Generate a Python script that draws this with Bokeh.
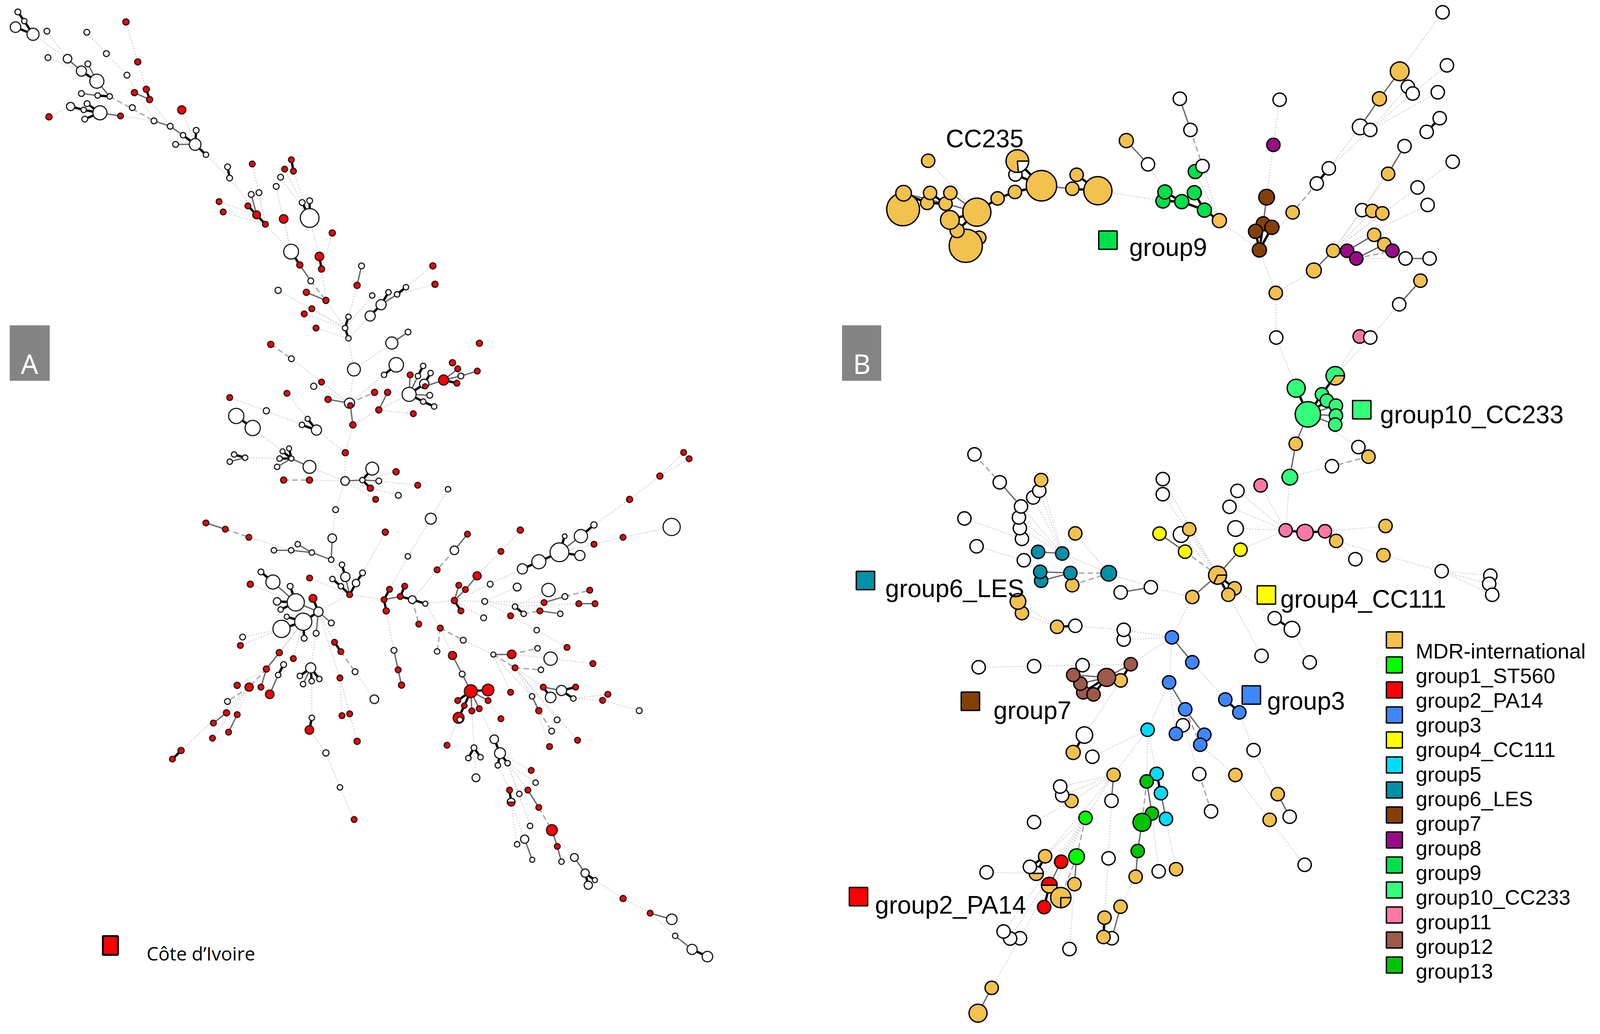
from math import radians
from bokeh.embed import file_html
from bokeh.models import ColumnDataSource, Range1d
from bokeh.plotting import figure
from bokeh.resources import INLINE

# ---- node readings: (id, read_x, read_y, diameter, group), one list per region of the picture
W, R = "white", "red"
A_TOP = [("a1",80,66,15,W),("a2",105,107,14,W),("a3",71,134,27,W),("a4",139,166,31,W),("a5",193,152,15,W),
("a6",348,157,15,W),("a7",197,270,15,W),("a8",273,275,22,W),("a9",327,330,26,W),("a10",352,298,15,W),
("a11",387,375,36,W),("a12",424,252,15,W),("a13",504,348,15,W),("a14",500,111,16,R),("a15",546,289,16,R),
("a16",533,426,16,R),("a17",579,411,16,R),("a18",592,457,16,R),("a19",327,430,15,W),("a20",390,439,14,W),
("a21",437,443,14,W),("a22",349,475,15,W),("a23",285,488,21,W),("a24",336,503,14,W),("a25",399,516,36,W),
("a26",340,544,15,W),("a27",201,534,16,R),("a28",479,530,15,R),("a29",525,493,15,W),("a30",717,503,21,R),
("a31",609,552,15,W),("a32",672,576,15,W),("a33",722,616,14,W),("a34",773,594,15,W),("a35",769,657,30,W),
("a36",693,657,15,W),("a37",811,703,14,W),("a38",895,757,15,W),("a39",903,807,15,W),("a40",991,744,15,R),
("a41",1143,725,15,R),("a42",1117,767,15,R),("a43",1151,776,15,R),("a44",1101,803,15,W),("a45",1084,844,15,W),
("a46",987,880,15,W),("a47",1017,872,15,W),("a48",862,912,15,R),("a49",878,958,15,R),("a50",974,931,15,R),
("a51",1008,971,20,R),("a52",1042,1013,15,R),("a53",1113,989,22,R),("a54",1185,916,15,W),("a55",1214,908,15,W),
("a56",1214,985,48,W),("a57",1302,1052,16,R),("a58",1142,1135,38,W)]

A_MID = [("b59",659,24,22,R),("b60",566,62,16,R),("b61",669,80,16,R),("b62",859,66,15,W),("b63",618,133,15,W),
("b64",838,153,16,R),("b65",463,175,16,W),("b66",597,184,16,R),("b67",690,220,16,R),("b68",1198,66,16,R),
("b69",1208,148,16,R),("b70",1070,161,14,W),("b71",1028,193,14,W),("b72",987,184,14,W),("b73",910,198,14,W),
("b74",952,239,26,W),("b75",900,289,26,W),("b76",623,257,15,R),("b77",587,280,15,R),("b78",797,293,14,W),
("b79",781,343,14,W),("b80",797,389,14,W),("b81",643,343,15,R),("b82",428,416,16,R),("b83",526,480,15,W),
("b84",1080,361,15,W),("b85",1003,410,31,W),("b86",823,528,33,W),("b87",1024,507,37,W),("b88",966,552,14,W),
("b89",1419,411,16,R),("b90",1291,498,16,R),("b91",1316,525,15,R),("b92",1409,535,15,R),("b93",1152,512,14,W),
("b94",1127,557,14,W),("b95",1187,544,14,W),("b96",1090,552,15,R),("b97",1331,557,15,W),("b98",1249,575,26,R),
("b99",1312,589,15,R),("b100",1157,592,24,W),("b101",1161,603,13,R),("b102",1085,639,36,W),("b103",1183,643,15,W),
("b104",1152,671,14,W),("b105",1204,693,14,W),("b106",669,584,15,R),("b107",632,603,16,W),("b108",505,634,15,R),
("b109",233,653,15,R),("b110",700,661,16,R),("b111",802,678,26,W),("b112",806,688,14,R),("b113",921,630,16,R),
("b114",983,630,16,R),("b115",941,708,16,R),("b116",1105,725,15,R),("b117",407,712,16,W),("b118",264,735,39,W),
("b119",342,789,39,W),("b120",603,748,13,W),("b121",576,775,14,W),("b122",645,798,26,W),("b123",818,775,16,R),
("b124",782,899,16,R),("b125",515,880,13,W),("b126",484,893,13,W),("b127",526,925,13,W),("b128",470,925,14,W),
("b129",458,962,14,W),("b130",612,962,33,W),("b131",254,907,14,W),("b132",306,921,14,W),("b133",233,939,14,W),
("b134",910,970,33,W),("b135",1023,984,16,R),("b136",781,1025,22,W),("b137",863,1021,14,W),("b138",941,1025,15,W),
("b139",901,1057,16,R),("b140",1126,1044,15,R),("b141",1034,1089,15,W),("b142",926,1107,15,R),("b143",1270,1062,14,W),
("b144",489,1021,16,R),("b145",612,1021,16,R),("b146",736,1153,15,W),("b147",1188,1193,28,W),("b148",120,1212,15,R),
("b149",212,1240,15,R),("b150",324,1276,15,R),("b151",972,1253,16,R),("b153",720,1280,22,W),("b155",556,1307,14,W),
("b156",443,1334,14,W),("b157",525,1334,14,W),("b158",623,1344,14,W),("b159",715,1376,14,W),("b160",1079,1361,14,W)]

A_LEFT = [("c1",625,335,15,W),("c2",689,386,36,W),("c3",781,407,15,W),("c4",568,397,16,R),("c5",885,366,15,R),
("c6",1058,299,14,W),("c7",1076,360,24,W),("c8",1168,340,15,W),("c9",1007,371,14,W),("c10",1052,407,14,W),
("c11",1133,391,19,W),("c12",1099,449,15,R),("c13",711,483,19,W),("c14",811,488,44,W),("c15",903,468,20,R),
("c16",730,524,14,W),("c17",932,535,24,W),("c18",763,560,13,W),("c19",851,585,44,W),("c20",735,621,44,W),
("c21",1001,591,15,W),("c22",920,643,15,W),("c23",856,668,15,W),("c24",527,662,15,W),("c25",515,704,15,R),
("c26",1018,688,15,R),("c27",1052,735,15,R),("c28",723,740,16,R),("c29",798,770,15,R),("c30",746,800,15,W),
("c31",654,822,16,R),("c32",717,852,14,W),("c33",891,817,26,W),("c34",833,857,14,W),("c35",937,872,14,W),
("c36",896,883,14,W),("c37",850,898,14,W),("c38",1128,836,15,W),("c39",1047,867,15,R),("c40",498,904,16,R),
("c41",562,913,21,R),("c42",625,913,15,R),("c43",672,949,22,R),("c44",446,985,15,W),("c45",1231,974,22,W),
("c46",441,1042,16,R),("c47",498,1051,15,R),("c48",371,1093,15,R),("c49",452,1139,15,R),("c50",366,1169,15,R),
("c51",897,1067,14,W),("c52",884,1128,22,R),("c53",1058,1056,15,R),("c54",1099,1047,15,R),("c55",1139,1185,16,R),
("c56",198,1231,16,R),("c57",152,1274,15,R),("c58",972,1243,16,W),("c59",1047,1416,14,W),("c60",1123,1577,15,R)]

A_RIGHT = [("d1",1518,114,15,R),("d2",1544,142,15,R),("d3",1405,219,16,R),("d4",1261,323,16,R),("d5",1092,437,16,W),
("d6",953,487,12,W),("d7",1030,487,34,W),("d8",928,559,48,W),("d9",1025,573,26,W),("d10",1092,523,15,R),
("d11",1230,492,15,R),("d12",1461,446,44,W),("d13",830,601,36,W),("d14",752,633,26,W),("d15",742,460,16,R),
("d16",650,555,15,R),("d17",537,664,21,R),("d18",491,478,15,R),("d19",429,550,22,W),("d20",347,637,15,R),
("d22",599,701,15,W),("d23",727,714,20,W),("d24",876,727,34,W),("d25",1072,728,15,R),("d26",954,756,15,W),
("d27",855,783,15,R),("d28",1020,788,15,R),("d29",1097,788,15,R),("d30",573,778,15,W),("d31",717,801,14,W),
("d32",758,833,14,W),("d33",835,820,15,R),("d34",932,833,14,W),("d35",696,842,15,R),("d36",568,851,15,W),
("d37",429,774,16,R),("d38",450,706,15,R),("d39",481,725,15,R),("d40",460,820,15,R),("d41",121,724,15,R),
("d42",193,710,15,R),("d43",95,770,15,R),("d44",172,756,15,R),("d45",229,770,20,W),("d46",291,788,13,W),
("d47",105,820,16,R),("d48",260,879,15,R),("d49",362,897,15,R),("d50",471,951,15,W),("d51",820,906,14,W),
("d52",964,983,15,R),("d53",347,1001,14,W),("d54",420,1019,21,R),("d55",614,1015,13,W),("d56",701,1014,22,R),
("d57",824,987,14,W),("d58",886,1033,34,W),("d59",1087,1055,15,R),("d60",717,1074,15,R),("d61",840,1083,14,W),
("d92",142,996,15,W),("d63",162,1083,15,R),("d64",178,1151,16,R),("d65",466,1102,15,W),("d66",507,1178,33,R),
("d67",589,1173,30,R),("d68",445,1220,15,R),("d69",589,1220,15,R),("d70",476,1243,14,R),("d71",547,1256,15,R),
("d72",512,1266,15,R),("d73",449,1297,28,R),("d74",455,1305,14,W),("d75",650,1301,15,R),("d76",851,1160,15,R),
("d77",938,1175,26,W),("d78",1005,1160,15,R),("d79",886,1206,27,W),("d80",994,1211,14,W),("d81",1158,1192,15,R),
("d82",1133,1219,15,R),("d83",1307,1265,15,W),("d84",696,1183,15,R),("d85",798,1201,14,W),("d86",830,1265,16,R),
("d87",917,1306,15,W),("d88",891,1356,15,W),("d89",881,1425,15,R),("d90",1014,1397,15,R),("d91",394,1419,15,R)]

A_TAIL = [("e1",378,183,22,W),("e2",407,249,28,W),("e3",276,223,15,W),("e4",248,272,14,W),("e5",309,268,14,W),
("e6",396,306,14,W),("e7",445,296,14,W),("e8",286,365,20,W),("e9",564,330,15,R),("e10",586,388,14,W),
("e11",547,423,15,R),("e12",455,423,15,R),("e13",504,441,14,W),("e14",463,480,20,R),("e15",602,505,15,R),
("e16",558,592,14,W),("e17",531,655,21,W),("e18",668,612,28,R),("e19",493,679,14,W),("e20",569,752,13,W),
("e21",695,689,15,R),("e22",716,761,14,W),("e23",781,741,20,W),("e24",835,815,21,W),("e25",884,848,13,W),
("e26",851,872,21,W),("e27",1026,935,16,R),("e28",1162,1004,15,R),("e29",1271,1033,27,W),("e30",1288,1111,14,W),
("e31",1373,1175,26,W),("e32",1450,1209,27,W)]

A_THICK = """a1-a2 a2-a4 a3-a4 a9-a11 a20-a21 a23-a24 a22-a25 a24-a25 a26-a25 a34-a35 a33-a35 a35-a37 a38-a39 a41-a43
a17-a18 a50-a51 a51-a52 a54-a56 a55-a56 a58-b60 b59-b61 b70-b71 b72-b74 b74-b75 b78-b79 b79-b80 b87-b88 b93-b94 b95-b100
b100-b102 b102-b104 b104-b105 b98-b99 b118-b119 b120-b122 b121-b122 b125-b127 b126-b127 b128-b127 b131-b132 b134-b137
b137-b139 c1-c2 c3-c14 c13-c14 c16-c14 c18-c19 c19-c20 c19-c17 c23-c19 c15-c17 c6-c7 c9-c10 c10-c12 c11-c12 c8-c11
c30-c32 c33-c34 c33-c35 c33-c36 c51-c52 c26-c27 c56-c57 d5-d7 d6-d8 d8-d9 d8-d13 d13-d14 d41-d43 d42-d44 d43-d47 d45-d46
d44-d45 d37-d40 d31-d32 d66-d67 d66-d68 d66-d70 d70-d73 d76-d79 d77-d78 d77-d80 e1-e2 e2-e6 e2-e7 e3-e4 e3-e5 e12-e14
e24-e25 e24-e26 e31-e32"""
A_SOLID = """a8-a9 a10-a11 a11-a21 a19-a20 a25-a28 a16-a18 a31-a32 a32-a33 a36-a35 a46-a51 b60-b63 b62-b64 b66-b67 b71-b74
b84-b85 b96-b102 b94-b102 b103-b102 b101-b98 b91-b98 b92-b97 b97-b98 b110-b111 b112-b123 b114-b115 b127-b130 b129-b127
b133-b132 b136-b137 b137-b138 b148-b149 b155-b158 b156-b157 b157-b158 b158-b159 b153-b159 c2-c14 c14-c17 c22-c17 c21-c17
c7-c12 c28-c31 c31-c42 c32-c43 c33-c37 c46-c48 c47-c49 d7-d8 d18-d19 d17-d39 d39-d37 d38-d37 d43-d44 d27-d26 d33-d34
d28-d29 d55-d56 d54-d65 d65-d66 d66-d72 d66-d71 d66-d69 d76-d77 d85-d86 d92-d63 d63-d64 e11-e15 e17-e20 e18-e21 e21-e22
e23-e24 e28-e29 e30-e31"""
A_DASHED = """a21-a31 b63-b67 b82-b83 b111-b113 b144-b145 b149-b150 c27-c38 c31-c41 c41-c44 d45-d48 d49-d53 d49-d50 d26-d25
d19-d20 d56-d57 d55-d60 d60-d61 d32-d33 d86-d88 e15-e18"""
A_DOTTED = """a4-a8 a5-a8 a7-a9 a6-a12 a12-a13 a13-a31 a14-a15 a15-a17 a18-a32 a27-a23 a28-a31 a30-a35 a37-a39 a39-a52 a40-a52
a48-a51 a49-a52 a45-a58 a44-a56 a42-a56 a43-a56 a47-a52 a52-a58 a53-a58 a56-b59 a57-b61 b61-b67 b64-b78 b65-b79 b76-b79
b77-b79 b81-b80 b73-b79 b75-b80 b70-b68 b71-b69 b67-b79 b80-b86 b85-b86 b83-b111 b106-b111 b107-b111 b108-b120 b86-b111
b88-b111 b115-b102 b116-b115 b115-b123 b123-b111 b123-b124 b124-b136 b109-b117 b117-b121 b122-b124 b119-b126 b132-b128
b130-b136 b145-b136 b135-b137 b138-b140 b141-b136 b142-b136 b146-b136 b146-b153 b150-b157 b143-b147 b147-b160 b160-d41
b151-c8 b159-c12 c4-c14 c5-c12 c17-c12 c12-d43 c24-c20 c25-c20 c28-c19 c29-c19 c31-c19 c40-c31 c41-c46 c41-c47 c50-c41
c56-c41 c22-c33 c36-c51 c52-c58 c58-c59 c59-c60 c17-c26 c17-c39 c39-c53 c39-c54 c39-c55 c38-c45 d1-d3 d2-d3 d3-d4 d4-d5
d10-d8 d10-d11 d11-d12 d14-d37 d15-d16 d16-d17 d20-d45 d22-d37 d23-d30 d24-d31 d30-d37 d30-d31 d35-d30 d36-d37 d37-d46
d46-d49 d47-d92 d50-d55 d49-d54 d51-d35 d51-d52 d30-d27 d28-d31 d56-d58 d58-d59 d55-d85 d60-d76 d60-d85 d60-d87 d90-d60
d89-d85 d80-d81 d80-d82 d82-d83 d73-d91 d72-e3 e3-e8 d71-e1 d75-d69 d84-d55 e2-e9 e7-e10 e7-e11 e7-e13 e6-e12 e7-e16
e14-e19 e14-e17 e18-e23 e25-e27 e27-e28 e28-e30"""

M, G1, G2, G3, G4, G5, G6, G7, G8, G9, G10, G11, G12, G13 = (
    "#F2C14E", "#00FF00", "#FF0000", "#3F87FF", "#FFFF00", "#00DCFF", "#0090A8",
    "#843F05", "#990B85", "#00E04B", "#33FF7A", "#FF78A8", "#9E5A4A", "#00C400")

B_TOP = [("g1",1248,61,34,W),("g2",1257,274,34,W),("g3",1159,298,48,M),("g4",1176,360,34,W),("g5",1186,387,34,W),
("g6",1117,408,36,M),("g7",1238,382,34,W),("g8",1242,486,34,W),("g9",1215,541,34,W),("g10",1077,521,40,W),
("g11",1098,533,34,W),("g12",703,408,34,W),("g13",910,412,34,W),("g14",725,533,34,W),("g15",592,576,36,M),
("g16",1169,598,34,W),("g17",1012,687,34,W),("g18",637,671,34,W),("g19",897,593,34,G8),("g20",735,700,36,G9),
("g21",750,678,34,W),("g22",987,748,34,W),("g23",1135,709,34,M),("g24",1269,661,34,W),("g25",1196,764,34,W),
("g26",1217,834,34,W),("g27",1081,855,34,W),("g28",1102,858,34,M),("g29",1123,868,34,M),("g30",1106,954,34,M),
("g31",937,864,34,M),("g32",1127,992,34,M),("g33",1021,1018,34,M),("g34",1050,1018,34,G8),("g35",1144,1018,34,G8),
("g36",1069,1049,34,G8),("g37",981,1097,38,M),("g38",1171,1049,34,W),("g39",1221,1049,34,W),("g40",1202,1138,34,M),
("g41",1158,1233,34,W),("g42",902,1187,34,M),("g43",903,1366,34,W),("g44",1076,1362,34,G11),("g45",1098,1366,34,W),
("g46",883,803,40,G7),("g47",876,910,36,G7),("g49",860,940,36,G7),("g48",894,924,36,G7),("g50",868,1015,36,G7),
("g52",668,818,36,G9),("g51",672,782,36,G9),("g53",707,821,36,G9),("g54",733,785,36,G9),("g56",785,897,36,M),
("g55",754,855,36,G9),("g57",181,657,34,M),("g59",362,712,34,W),("g58",366,658,58,M),("g60",416,757,78,M),
("g61",489,713,34,M),("g62",480,769,34,M),("g63",533,777,72,M),("g64",361,782,34,M),("g65",325,808,34,M),
("g67",129,852,84,M),("g68",130,787,40,M),("g69",179,826,34,M),("g72",217,829,34,M),("g70",185,786,34,M),
("g71",227,786,34,M),("g75",287,966,34,M),("g76",259,998,85,M),("g74",241,937,36,M),("g66",282,863,72,M),("g73",226,894,48,M)]

B_EAST = [("h2",535,315,46,G10),("h1",702,265,47,G10),("h3",645,340,34,G10),("h4",666,365,34,G10),("h5",705,385,34,G10),
("h6",705,425,34,G10),("h7",702,461,34,G10),("h8",585,420,65,G10),("h9",533,538,34,M),("h10",801,551,34,W),
("h11",844,590,34,M),("h12",688,628,34,W),("h13",508,672,40,G10),("h14",383,705,34,G11),("h15",284,727,34,W),
("h16",250,791,34,W),("h17",276,878,40,W),("h18",490,885,34,G11),("h19",573,894,42,G11),("h21",706,928,34,M),
("h20",658,889,34,G11),("h22",917,868,34,M),("h23",908,985,34,M),("h24",788,1001,34,W),("h25",1157,1049,34,W),
("h26",1365,1067,34,W),("h27",1360,1100,34,W),("h28",1373,1144,34,W),("h29",43,902,40,W),("h30",78,881,34,M),
("h31",60,971,34,G4),("h32",297,963,34,G4),("h34",272,1118,34,M),("h33",199,1065,46,M),("h35",245,1144,34,M),
("h36",91,1153,34,M),("h37",443,1238,34,W),("h38",517,1282,40,W),("h39",387,1389,34,W),("h40",593,1415,34,W)]

B_WEST = [("i1",571,267,34,W),("i2",679,379,34,W),("i5",822,440,34,W),("i4",848,413,34,W),("i3",856,370,34,M),
("i9",774,606,34,W),("i8",765,563,34,W),("i7",761,520,34,W),("i6",770,476,34,W),("i10",528,524,34,W),("i11",580,636,34,W),
("i12",1002,584,34,M),("i13",843,658,34,G6),("i14",946,665,34,G6),("i15",782,692,34,W),("i16",856,774,34,G6),
("i17",852,738,34,G6),("i19",989,792,34,M),("i18",981,743,34,G6),("i20",1145,744,40,G6),("i21",1196,821,34,W),
("i22",1325,800,34,W),("i25",774,904,34,M),("i24",757,857,40,M),("i26",924,959,34,M),("i27",1002,955,34,W),
("i29",1209,1010,34,W),("i28",1209,971,34,W),("i30",1415,1001,34,G3),("i31",1502,1101,34,G3),("i32",1239,1109,34,G12),
("i33",1033,1113,34,W),("i34",826,1117,34,W),("i35",589,1121,34,W),("i36",1196,1174,34,M),("i40",1036,1222,34,G12),
("i41",1080,1230,34,G12),("i39",1024,1187,34,G12),("i38",993,1152,34,G12),("i37",1136,1162,46,G12),("i42",1403,1182,34,G3),
("i48",1462,1354,34,W),("i43",1472,1290,34,G3),("i44",1041,1393,42,W),("i45",993,1463,36,M),("i46",1075,1480,34,W),
("i47",1311,1372,34,G5),("i49",1432,1388,34,G3),("i50",1376,366,34,W),("i51",1376,427,34,W),("i52",1362,585,34,G4)]

B_SOUTH = [("j5",682,583,34,G3),("j6",757,648,34,G3),("j7",833,837,34,W),("j8",570,760,34,G3),("j9",548,810,34,G3),
("j10",315,956,34,G5),("j11",262,994,34,G13),("j12",338,1053,34,G5),("j13",543,957,34,W),("j14",736,962,34,M),
("j15",85,961,34,M),("j16",74,1091,34,W),("j17",58,1380,34,W),("j18",290,1155,34,G13),("j19",237,1199,46,G13),
("j20",365,1182,34,G5),("j21",214,1343,34,G13),("j22",203,1472,34,M),("j23",326,1445,34,W),("j24",419,1434,34,M),
("j25",962,1058,34,M),("j26",1026,1171,34,W),("j27",919,1187,34,M),("j28",606,1144,34,W),("j29",1106,1412,34,W)]

B_FOOT = [("k4",1165,477,34,M),("k5",1118,450,34,W),("k3",1108,408,34,W),("k6",976,577,34,W),("k7",1236,557,34,G1),
("k8",1191,741,40,G1),("k9",1113,765,34,G2),("k10",1032,739,34,M),("k11",987,820,36,M),("k13",736,815,34,W),
("k14",1180,871,34,M),("k17",1027,980,34,G2),("k15",1053,876,40,M),("k16",1111,935,52,M),("k18",905,1128,34,W),
("k19",855,1129,34,W),("k20",822,1096,34,W),("k21",1155,1179,34,W),("k22",1369,1128,34,W),("k23",1327,1122,34,M),
("k24",1332,1030,34,M),("k25",1413,978,34,M),("k26",762,1363,34,M),("k27",693,1483,46,M)]
B_ABOVE_WEDGES = [("k12",955,789,34,W)]

B_THICK = """g8-g9 g17-g22 g47-g50 g48-g50 g49-g50 g51-g52 g52-g53 g53-g55 g51-g53 g54-g55 g55-g56 g58-g60 g59-g60 g60-g64
g64-g65 g65-g66 g62-g63 g61-g63 g70-g72 g69-g72 g66-g73 g73-g76 g74-g76 g75-g76 g74-g66 g69-g70 g68-g69 i26-i27 i32-i36
i37-i40 i37-i41 j5-j6 h37-h38 h18-h19 h19-h20 h2-h8 h3-h8 h4-h8 h1-h3 h33-h34 h33-h35 i45-i44 j10-j12 k10-k12 k15-k17
k23-k24 k10-k11 k12-k11"""
B_SOLID = """g3-g6 g6-g10 g12-g14 g15-g18 g23-g16 g46-g47 g33-g37 g34-g30 g36-g32 g38-g39 g40-g41 g68-g72 g71-g66 g72-g66
g60-g62 g53-g54 i2-i6 i13-i14 i17-i18 i16-i18 i21-i22 i52-h31 i30-i31 i42-i43 i43-j8 i38-i37 i39-i37 i36-i37 i32-i37
h36-h33 h32-h33 h8-h9 h9-h13 h8-h5 h8-h6 h8-h7 h20-h21 j25-j26 j11-j18 j12-j20 j19-j21 j21-j22 j15-j16 k9-k15 k8-k14
k25-k22 k26-k27 j18-j19"""
B_DASHED = """g14-g21 g22-g31 g36-g35 i1-i2 i18-i20 i19-i20 i43-j9 j13-j28 j11-j19 k7-k8 k8-k16 h11-h12 h31-h33"""
B_DOTTED = """g1-g3 g2-g5 g4-g11 g5-g11 g7-g11 g10-g17 g11-g17 g16-g9 g16-g27 g23-g33 g24-g25 g25-g33 g26-g33 g27-g33 g28-g33
g29-g33 g38-g36 g33-g37 g37-g42 g42-g50 g42-g43 g43-h2 g41-g45 g45-h1 g44-h1 g13-g19 g19-g46 g31-g50 g18-g51 g63-g52
g21-g56 g20-g56 g56-g50 g57-g66 i3-i14 i4-i14 i5-i14 i6-i14 i7-i14 i8-i14 i12-i20 i14-i20 i15-i17 i10-i9 i11-i15 i20-i22
i22-h36 i24-i26 i25-i26 i27-i28 i28-i30 i29-i30 i30-h36 i32-i30 i33-i32 i34-i33 i35-i34 i36-i44 i30-i42 i42-i47 i42-i49
i42-i48 i47-i46 i47-j15 i47-j11 i47-j10 i51-h33 i50-h33 h30-h33 h29-h33 i48-j13 i31-j5 j6-j7 j7-j25 j9-j14 j14-j27 j27-j29
h35-h39 h34-h37 h38-h40 h17-h18 h16-h18 h15-h18 h14-h18 h32-h18 h18-h13 h13-h12 h8-h10 h20-h22 h21-h24 h21-h23 h23-h25
h25-h26 h25-h27 h25-h28 j18-j23 j20-j24 k14-k21 j16-j17 k24-j17 j22-k25 j15-k3 j15-k4 j15-k5 j15-k10 j15-k7 k6-k4 k7-k20
k7-k18 k7-k19 k7-k17 k7-k10 k13-k11 k18-k26"""

# mixed-membership nodes: (id, first angle, last angle, group of the slice)
A_SLICES = [("e14", 0, 180, W)]
B_SLICES = [("g58", -85, 0, W), ("h1", -125, 0, M), ("h33", -115, 0, M), ("k16", -90, 0, M), ("k15", 0, 180, G2), ("k11", 0, 180, W)]

LEGEND_LABELS = ["MDR-international", "group1_ST560", "group2_PA14", "group3", "group4_CC111", "group5", "group6_LES",
                 "group7", "group8", "group9", "group10_CC233", "group11", "group12", "group13"]
LEGEND_COLORS = [M, G1, G2, G3, G4, G5, G6, G7, G8, G9, G10, G11, G12, G13]
LABELS = ["CC235", "group9", "group10_CC233", "group6_LES", "group7", "group4_CC111", "group3", "group2_PA14"]
LABEL_X = [2586, 3086, 3770, 2421, 2716, 3498, 3462, 2393]
LABEL_Y = [362, 640, 1068, 1513, 1825, 1540, 1801, 2323]
KEY_X = [3028, 3720, 2367, 2653, 3460, 3419, 2348]
KEY_Y = [622, 1056, 1493, 1802, 1530, 1786, 2302]
KEY_C = [G9, G10, G6, G7, G4, G3, G2]

# each list was read in its own frame of the picture: left, top, x scale, y scale
k9, k8 = 900 / 1568, 1000 / 1568
FRAMES = [
    (A_TOP, 0, 0, 1100 / 1568, 900 / 1568), (A_MID, 500, 650, k9, k9), (A_LEFT, 400, 1300, 800 / 1568, 800 / 1568),
    (A_RIGHT, 1000, 1100, k9, k9), (A_TAIL, 1150, 1800, 850 / 1568, 850 / 1568),
    (B_TOP, 2300, 0, 2061 / 1568, k8), (B_EAST, 3200, 800, k8, k8), (B_WEST, 2300, 1000, k8, k8),
    (B_SOUTH, 3000, 1500, 800 / 1568, 800 / 1568), (B_FOOT, 2300, 1800, 846 / 1568, 846 / 1568),
    (B_ABOVE_WEDGES, 2300, 1800, 846 / 1568, 846 / 1568),
]
POS = {}
for rows, x0, y0, kx, ky in FRAMES:
    for n, zx, zy, d, c in rows:
        POS[n] = (x0 + zx * kx, y0 + zy * ky, d, c)


def nodes(lists):
    names = [r[0] for rows in lists for r in rows]
    return ColumnDataSource(dict(x=[POS[n][0] for n in names], y=[POS[n][1] for n in names],
                                 d=[POS[n][2] for n in names], c=[POS[n][3] for n in names]))


def segs(text):
    xs, ys = [], []
    for e in text.split():
        a, b = e.split("-")
        if a in POS and b in POS:
            xs.append([POS[a][0], POS[b][0]])
            ys.append([POS[a][1], POS[b][1]])
    return xs, ys


p = figure(width=4080, height=2630, x_range=Range1d(8, 4353), y_range=Range1d(2638, 8),
           x_axis_location=None, y_axis_location=None, toolbar_location=None, output_backend="svg",
           min_border=0, background_fill_color="white", border_fill_color="white")
p.grid.visible = False
p.outline_line_color = None

for txt, col, w, dash in [
    (A_DOTTED + " " + B_DOTTED, "#cccccc", 2.5, [3, 4]),
    (A_DASHED + " " + B_DASHED, "#a8a8a8", 3.5, [14, 8]),
    (A_SOLID + " " + B_SOLID, "#6b6b6b", 3.5, []),
    (A_THICK + " " + B_THICK, "#000000", 6, []),
]:
    xs, ys = segs(txt)
    line = p.multi_line(xs, ys, line_color=col, line_width=w)
    line.glyph.line_dash = dash


def circles(src, lw, lc):
    p.scatter("x", "y", size="d", fill_color="c", line_color=lc, line_width=lw, source=src)


def slices(rows, lw, lc):
    p.wedge([POS[r[0]][0] for r in rows], [POS[r[0]][1] for r in rows], radius=[POS[r[0]][2] / 2 for r in rows],
            radius_units="screen", start_angle=[radians(r[1]) for r in rows], end_angle=[radians(r[2]) for r in rows],
            fill_color=[r[3] for r in rows], line_color=lc, line_width=lw)


circles(nodes([A_TOP, A_MID, A_LEFT, A_RIGHT, A_TAIL]), 3, "#1c1c1c")
slices(A_SLICES, 3, "#1c1c1c")
circles(nodes([B_TOP, B_EAST, B_WEST, B_SOUTH, B_FOOT]), 3.5, "#000000")
slices(B_SLICES, 3.5, "#000000")
circles(nodes([B_ABOVE_WEDGES]), 3.5, "#000000")

# panel badges
p.quad(left=[34, 2303], right=[143, 2410], top=[840, 840], bottom=[982, 982], fill_color="#848484", line_color=None)
p.text([88, 2357], [937, 937], text=["A", "B"], text_color="white", text_font={"value": "Noto Sans"},
       text_font_size="70px", text_align="center", text_baseline="alphabetic")

# panel A key
p.quad(left=[288], right=[329], top=[2403], bottom=[2451], fill_color="#FF0000", line_color="#000000", line_width=5)
p.text([407], [2447], text=["Côte d’Ivoire"], text_color="black", text_font={"value": "Open Sans"},
       text_font_size="48px", text_baseline="alphabetic")

# panel B callouts
p.scatter(KEY_X, KEY_Y, marker="square", size=47, fill_color=KEY_C, line_color="#000000", line_width=3.5)
p.text(LABEL_X, LABEL_Y, text=LABELS, text_color="black", text_font={"value": "Liberation Sans"},
       text_font_size="64px", text_baseline="alphabetic")

# panel B legend
rows = list(range(len(LEGEND_LABELS)))
p.scatter([3809] * len(rows), [1645 + 64 * i for i in rows], marker="square", size=41, fill_color=LEGEND_COLORS,
          line_color="#000000", line_width=3.5)
p.text([3867] * len(rows), [1673 + 63 * i for i in rows], text=LEGEND_LABELS, text_color="black",
       text_font={"value": "Liberation Sans"}, text_font_size="54px", text_baseline="alphabetic")

open("out.html", "w").write(file_html(p, INLINE))
